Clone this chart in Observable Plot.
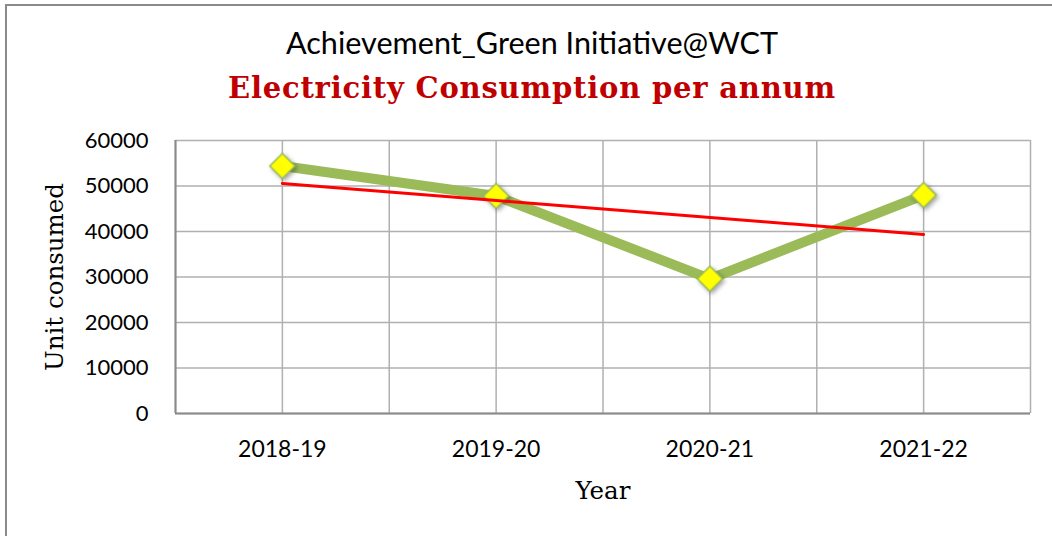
<!DOCTYPE html>
<html>
<head>
<meta charset="utf-8">
<script src="https://cdn.jsdelivr.net/npm/d3@7"></script>
<script src="https://cdn.jsdelivr.net/npm/@observablehq/plot@0.6"></script>
<style>
  html, body { margin: 0; padding: 0; background: #fff; }
  #wrap { position: relative; width: 1052px; height: 536px; overflow: hidden; background: #fff; }
  #frame { position: absolute; left: 5px; top: 4px; width: 1060px; height: 600px; border: 2px solid #8a8a8a; box-sizing: border-box; }
  .t1 { position: absolute; left: 0; width: 1064px; text-align: center; font-family: Lato, sans-serif; font-size: 30.6px; line-height: 30px; color: #000; top: 28px; white-space: nowrap; }
  .t2 { position: absolute; left: 0; width: 1064px; text-align: center; font-family: "DejaVu Serif", serif; font-weight: bold; font-size: 29px; letter-spacing: 0.8px; line-height: 28px; color: #C00000; top: 74px; white-space: nowrap; }
  #chart { position: absolute; left: 0; top: 120px; }
  #chart g[aria-label="y-axis label"] text, #chart g[aria-label="x-axis label"] text { font-family: "DejaVu Serif", serif; font-size: 24.5px; }
  #chart g[aria-label="dot"] { filter: drop-shadow(2px 2px 2px rgba(0,0,0,0.35)); }
</style>
</head>
<body>
<div id="wrap">
  <div id="frame"></div>
  <div class="t1">Achievement_Green Initiative@WCT</div>
  <div class="t2">Electricity Consumption per annum</div>
  <div id="chart"></div>
</div>
<script>
const years = ["2018-19", "2019-20", "2020-21", "2021-22"];
const units = [54400, 47800, 29600, 48000];
const yTicks = [0, 10000, 20000, 30000, 40000, 50000, 60000];
const xGrid = [-0.5, 0, 0.5, 1, 1.5, 2, 2.5, 3, 3.5];

const data = years.map((year, i) => ({i, year, units: units[i]}));

const plot = Plot.plot({
  width: 1052,
  height: 416,
  marginLeft: 175,
  marginRight: 22,
  marginTop: 20,
  marginBottom: 123,
  style: {fontFamily: "Lato, sans-serif", fontSize: "22px", color: "#000", background: "transparent"},
  x: {domain: [-0.5, 3.5]},
  y: {domain: [0, 60000]},
  marks: [
    Plot.gridY(yTicks, {stroke: "#b0b0b0", strokeOpacity: 1, strokeWidth: 1.5}),
    Plot.gridX(xGrid, {stroke: "#b0b0b0", strokeOpacity: 1, strokeWidth: 1.5}),
    Plot.ruleY([0], {stroke: "#8a8a8a", strokeWidth: 2}),
    Plot.ruleX([-0.5], {stroke: "#8a8a8a", strokeWidth: 2}),
    Plot.axisY(yTicks, {tickSize: 0, tickPadding: 27, tickFormat: "d", fontSize: 22,
      label: "Unit consumed", labelAnchor: "center", labelOffset: 130, labelArrow: "none"}),
    Plot.axisX([0, 1, 2, 3], {tickSize: 0, tickPadding: 27, tickFormat: i => years[i], fontSize: 23,
      label: "Year", labelAnchor: "center", labelOffset: 85, labelArrow: "none"}),
    Plot.line(data, {x: "i", y: "units", stroke: "#9BBB59", strokeWidth: 10}),
    Plot.dot(data, {x: "i", y: "units", symbol: "diamond2", r: 11.3, fill: "#FFFF00", stroke: "#9BBB59", strokeWidth: 1.5}),
    Plot.linearRegressionY(data, {x: "i", y: "units", stroke: "#FF0000", strokeWidth: 3, ci: 0})
  ]
});
document.getElementById("chart").appendChild(plot);
</script>
</body>
</html>
